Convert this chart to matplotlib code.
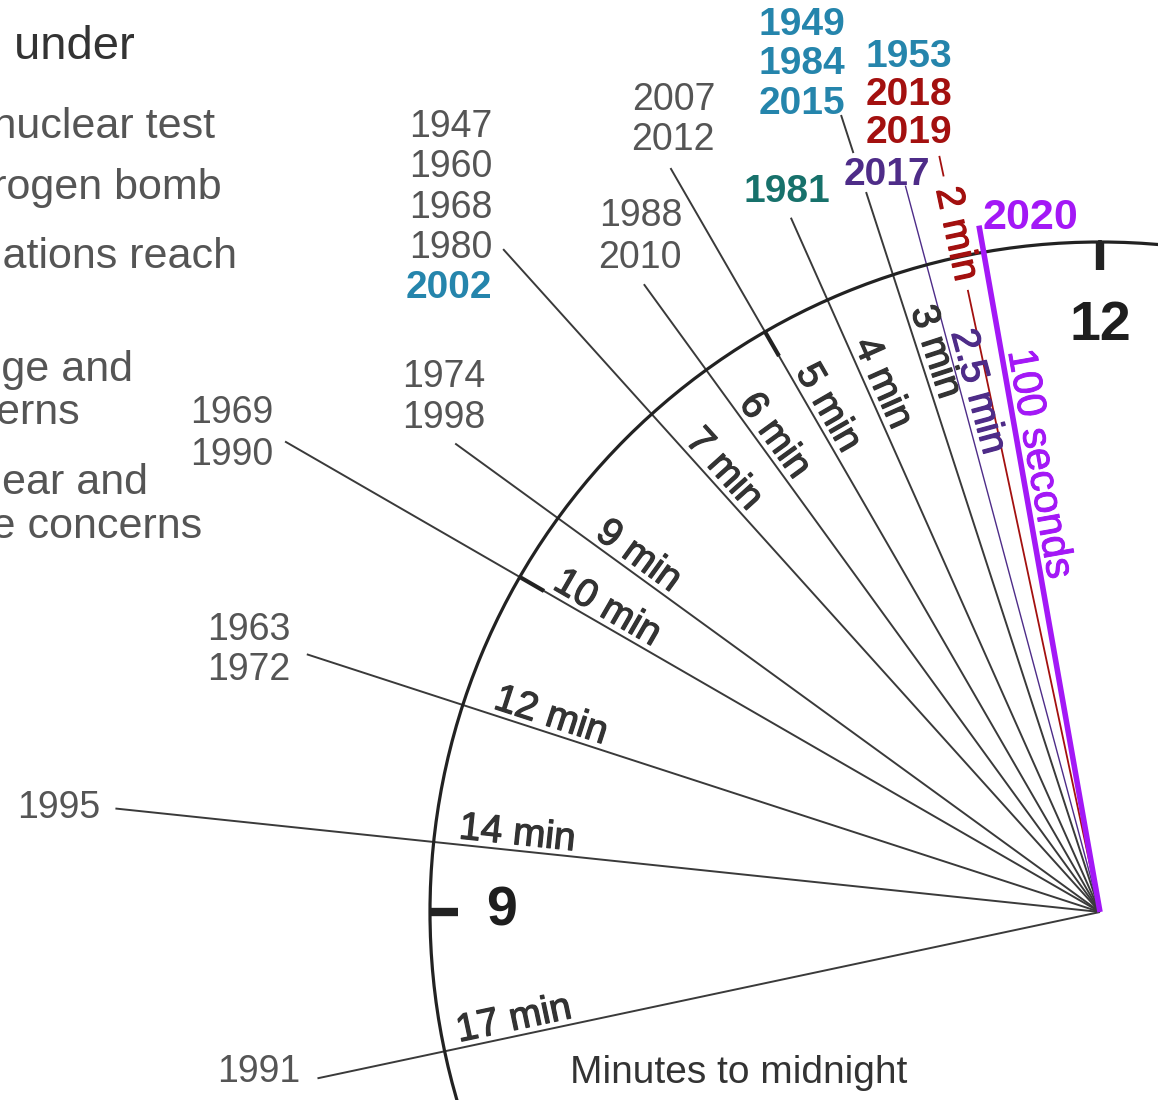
import numpy as np
import matplotlib
matplotlib.use("Agg")
import matplotlib.pyplot as plt
import matplotlib.patheffects as pe

plt.rcParams['font.family'] = ['Liberation Sans', 'DejaVu Sans']

# Doomsday clock settings: minutes to midnight and the years at each setting
minutes = [17, 14, 12, 10, 9, 7, 6, 5, 4, 3, 2.5, 2, 100 / 60]
min_labels = ["17 min", "14 min", "12 min", "10 min", "9 min", "7 min", "6 min",
              "5 min", "4 min", "3 min", "2.5 min", "2 min", "100 seconds"]
years = [["1991"], ["1995"], ["1963", "1972"], ["1969", "1990"], ["1974", "1998"],
         ["1947", "1960", "1968", "1980", "2002"], ["1988", "2010"], ["2007", "2012"],
         ["1981"], ["1949", "1984", "2015"], ["2017"], ["1953", "2018", "2019"], ["2020"]]

# highlighted years
BLUE, TEAL, DPURPLE, DRED, PURPLE = "#2585ac", "#17716b", "#4e2c88", "#a3100f", "#a318f6"
year_color = {"1949": BLUE, "1953": BLUE, "1984": BLUE, "2015": BLUE, "2002": BLUE,
              "1981": TEAL, "2017": DPURPLE, "2018": DRED, "2019": DRED, "2020": PURPLE}

# cropped legend on the left
legend_lines = ["First nuclear test", "hydrogen bomb", "Relations reach",
                "change and", "concerns", "Nuclear and", "climate concerns"]

# ---- layout (pixels) ----
W, H = 1158, 1100
CX, CY, R = 1100, 912, 670
GRAY = "#555555"
DARK = "#333333"

# how far each hand reaches out, and gaps where labels sit on the hand
line_reach = [800, 990, 834, 941, 797, 892, 776, 859, 760, 838, 752, 773, 697]
line_gaps = {9: (757, 798), 11: (636, 752)}
line_style = {10: (DPURPLE, 1.0), 11: (DRED, 1.3), 12: (PURPLE, 4.0)}
label_start = [654, 646, 641, 637, 630, 628, 624, 620, 619, 631, 598, 693, 568]

# year label anchors: (x, y of first line, ha, line spacing)
year_pos = [(300, 1072, 'right', 40), (100, 808, 'right', 40), (290, 630, 'right', 40),
            (273, 413, 'right', 42), (485, 377, 'right', 41), (492, 127, 'right', 40.3),
            (682, 216, 'right', 42), (715, 100, 'right', 40), (830, 192, 'right', 40),
            (845, 25, 'right', 39.5), (930, 175, 'right', 40), (952, 57, 'right', 38),
            (982, 218, 'left', 40)]
legend_pos = [(215, 127), (222, 188), (237, 257), (133, 370), (80, 413), (148, 483), (202, 527)]

fig = plt.figure(figsize=(W / 100, H / 100), dpi=100)
fig.patch.set_facecolor("white")

ax = fig.add_axes([(CX - R) / W, (H - CY - R) / H, 2 * R / W, 2 * R / H], projection='polar')
ax.set_theta_zero_location('N')
ax.set_theta_direction(1)
ax.set_ylim(0, R)
ax.grid(False)
ax.set_xticks([])
ax.set_yticks([])
ax.patch.set_alpha(0)
ax.spines['polar'].set_linewidth(2.3)
ax.spines['polar'].set_color("#222222")


def th(m):
    return np.deg2rad(m * 6)


# hands
for i, m in enumerate(minutes):
    color, lw = line_style.get(i, ("#3a3a3a", 1.4))
    segs = [(0, line_reach[i])]
    if i in line_gaps:
        g0, g1 = line_gaps[i]
        segs = [(0, g0), (g1, line_reach[i])]
    for r0, r1 in segs:
        ax.plot([th(m), th(m)], [r0, r1], color=color, lw=lw, clip_on=False,
                solid_capstyle='butt', zorder=3 if i == 12 else 2)

# hour marks
for m, length, lw in [(0, 28, 6), (15, 28, 6), (5, 28, 3), (10, 28, 3)]:
    ax.plot([th(m), th(m)], [R - length, R], color="#222222", lw=lw,
            solid_capstyle='butt', zorder=4)
ax.text(th(0), 586, "12", ha='center', va='center', fontsize=40, fontweight='bold', color="#1e1e1e")
ax.text(th(15), 598, "9", ha='center', va='center', fontsize=40, fontweight='bold', color="#1e1e1e")

# minute labels along the hands
for i, (m, lab) in enumerate(zip(minutes, min_labels)):
    rot = m * 6 - 90
    color = {10: DPURPLE, 11: DRED, 12: PURPLE}.get(i, DARK)
    fx = [pe.withStroke(linewidth=0.7 if i == 12 else 0.9, foreground=color)]
    if i == 11:
        ax.text(th(m), label_start[i], lab, rotation=rot, rotation_mode='anchor',
                ha='center', va='center', fontsize=28, color=color, path_effects=fx)
        continue
    phi = np.deg2rad(rot)
    off = 5 if i == 12 else 4.5
    ax.annotate(lab, xy=(th(m), label_start[i]),
                xytext=(-off * np.sin(phi), off * np.cos(phi)), textcoords='offset points',
                rotation=rot, rotation_mode='anchor', ha='left', va='baseline',
                fontsize=29.5 if i == 12 else 28, color=color, path_effects=fx)

# year labels
for group, (x, y, ha, step) in zip(years, year_pos):
    for k, yr in enumerate(group):
        c = year_color.get(yr, GRAY)
        bold = yr in year_color
        size = 31 if yr == "2020" else (28 if bold else 27)
        fig.text(x / W, 1 - (y + k * step) / H, yr, ha=ha, va='center',
                 fontsize=size, fontweight='bold' if bold else 'normal', color=c)

# cropped legend text
fig.text(135 / W, 1 - 47 / H, "Reasons the clock moved under", ha='right', va='center',
         fontsize=34, color=DARK)
for txt, (x, y) in zip(legend_lines, legend_pos):
    fig.text(x / W, 1 - y / H, txt, ha='right', va='center', fontsize=31, color=GRAY)

fig.text(570 / W, 1 - 1073 / H, "Minutes to midnight", ha='left', va='center',
         fontsize=28, color=DARK)

fig.savefig("out.png", dpi=100, facecolor="white")
